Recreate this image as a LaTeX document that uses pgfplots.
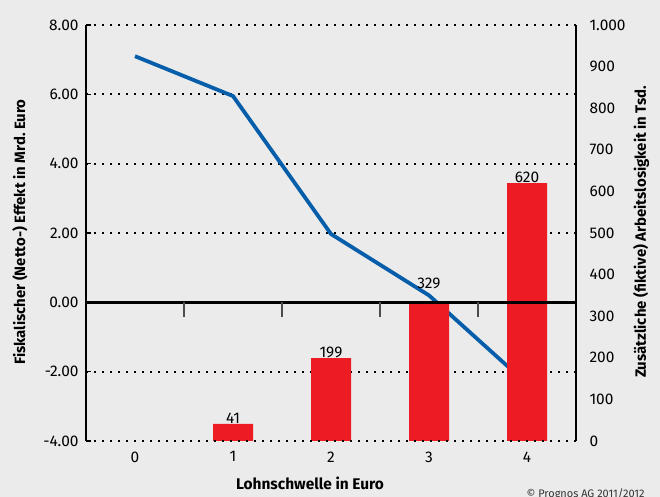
\documentclass[border=0pt]{standalone}
\usepackage{pgfplots}
\pgfplotsset{compat=1.18}
\usepackage{fontspec}
\setmainfont{Fira Sans}
\definecolor{bg}{HTML}{EBEBEB}
\definecolor{lblue}{HTML}{065DAA}
\definecolor{bred}{HTML}{ED1C24}
\begin{document}
\begin{tikzpicture}[x=1bp,y=1bp]
\fill[bg] (0,0) rectangle (660,497);
\useasboundingbox (0,0) rectangle (660,497);
\pgfplotsset{
  common/.style={
    scale only axis, width=490bp, height=416bp,
    at={(86bp,56bp)}, anchor=south west,
    xmin=-0.5, xmax=4.5,
    /pgf/number format/assume math mode=true,
    tick label style={font=\fontsize{15.5}{18}\selectfont},
  }
}
\begin{axis}[common,
  axis y line*=left, axis x line*=bottom,
  x axis line style={draw=none},
  ymin=-4, ymax=8,
  ytick={-4,-2,0,2,4,6,8},
  yticklabels={-4.00,-2.00,0.00,2.00,4.00,6.00,8.00},
  yticklabel style={xshift=-4bp},
  xtick={0,1,2,3,4},
  xticklabels={0,1,2,3,4},
  xticklabel style={yshift=-7bp},
  x tick style={draw=none},
  y tick style={black, line width=1.2bp},
  major tick length=5bp,
  tick align=inside,
  y axis line style={black, line width=1.6bp},
  ymajorgrids,
  grid style={black, line width=1.8bp, dash pattern=on 1.8bp off 6.2bp},
  clip=false,
]
\addplot[lblue, line width=3.8bp, line join=round] coordinates {
  (0,7.1) (1,5.95) (2,1.97) (3,0.2) (4,-2.35)
};
\end{axis}
\begin{axis}[common,
  axis y line*=right, axis x line=none,
  ymin=0, ymax=1000,
  ytick={0,100,...,1000},
  yticklabels={0,100,200,300,400,500,600,700,800,900,1.000},
  y tick style={draw=none},
  y axis line style={black, line width=1.6bp},
  yticklabel style={xshift=10bp},
  ybar, bar width=40bp,
  clip=false,
]
\addplot[draw=none, fill=bred,
  visualization depends on={\thisrow{s} \as \sh},
  nodes near coords,
  every node near coord/.append style={font=\fontsize{15.5}{18}\selectfont, black, yshift=\sh bp},
] table {
x y s
1 41 -3
2 199 -3
3 329 12
4 620 -3
};
\draw[black, line width=2.7bp] (axis cs:-0.5,333.33) -- (axis cs:4.5,333.33);
\pgfplotsinvokeforeach{0.5,1.5,2.5,3.5}{
  \draw[black!70, line width=1.8bp] (axis cs:#1,333.33) -- ++(0bp,-15bp);
}
\draw[black, line width=1.8bp, dash pattern=on 1.8bp off 6.2bp] (axis cs:-0.5,0) -- (axis cs:4.5,0);
\end{axis}
\node[rotate=90, font=\bfseries\fontsize{15}{18}\selectfont] at (20,265) {Fiskalischer (Netto-) Effekt in Mrd.\ Euro};
\node[rotate=90, font=\bfseries\fontsize{15}{18}\selectfont] at (641,265) {Zusätzliche (fiktive) Arbeitslosigkeit in Tsd.};
\node[font=\bfseries\fontsize{15.5}{18}\selectfont] at (310,14) {Lohnschwelle in Euro};
\node[anchor=base west, font=\fontsize{11}{13}\selectfont, text=black!80] at (523,-1) {© Prognos AG 2011/2012};
\end{tikzpicture}
\end{document}
